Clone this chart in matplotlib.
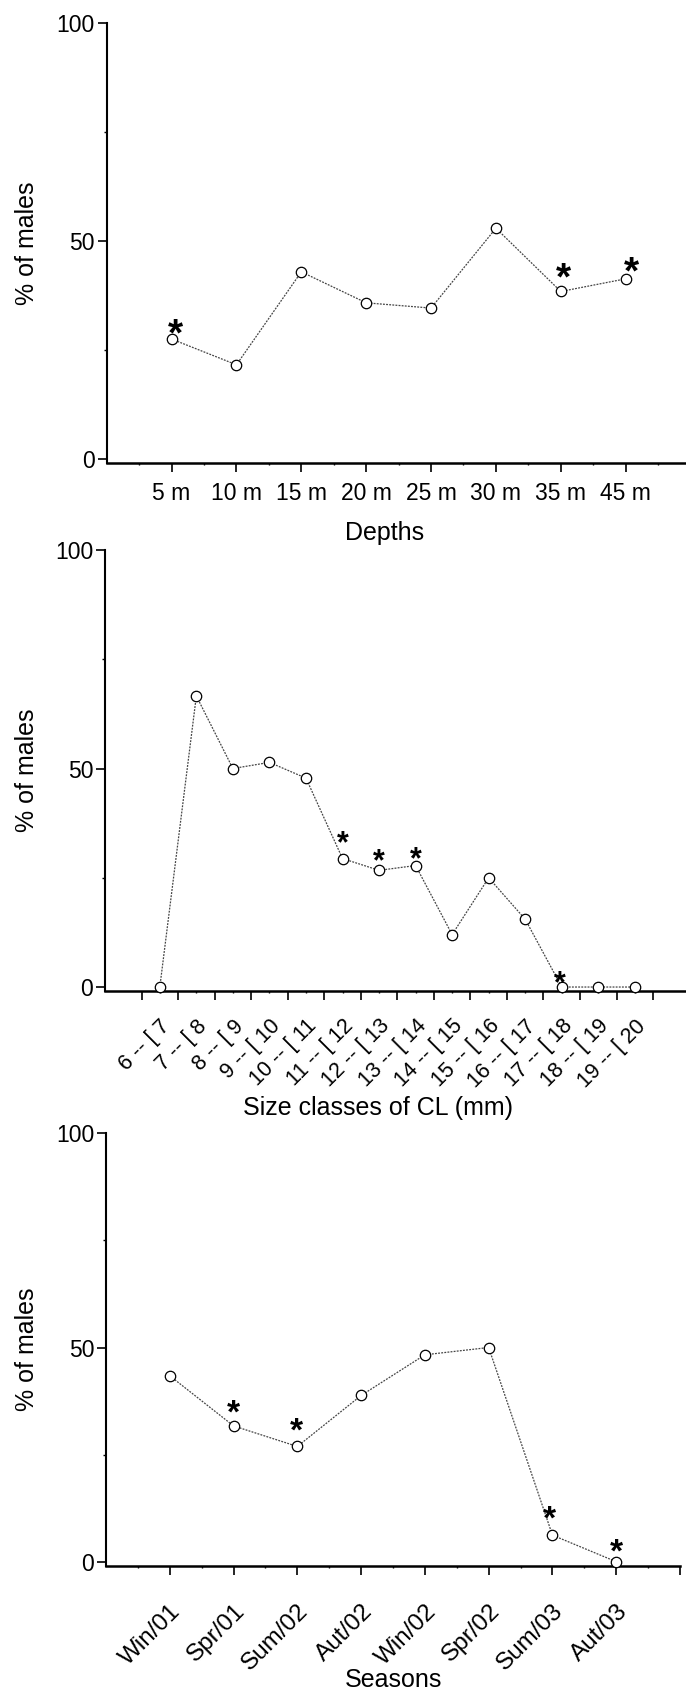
import matplotlib.pyplot as plt
from matplotlib.ticker import FixedLocator

plt.rcParams['font.family'] = ['Liberation Sans', 'DejaVu Sans']

# ---- data ----
depth_labels = ['5 m', '10 m', '15 m', '20 m', '25 m', '30 m', '35 m', '45 m']
depth_males = [27.5, 21.6, 42.9, 35.8, 34.6, 52.9, 38.4, 41.3]
depth_stars = [0, 6, 7]

size_labels = ['6 -- [ 7', '7 -- [ 8', '8 -- [ 9', '9 -- [ 10', '10 -- [ 11',
               '11 -- [ 12', '12 -- [ 13', '13 -- [ 14', '14 -- [ 15',
               '15 -- [ 16', '16 -- [ 17', '17 -- [ 18', '18 -- [ 19', '19 -- [ 20']
size_males = [0, 66.6, 50.0, 51.4, 47.8, 29.4, 26.7, 27.8, 12.0, 25.0, 15.5, 0, 0, 0]
size_stars = [5, 6, 7, 11]

season_labels = ['Win/01', 'Spr/01', 'Sum/02', 'Aut/02', 'Win/02', 'Spr/02',
                 'Sum/03', 'Aut/03']
season_males = [43.4, 31.7, 26.9, 38.8, 48.3, 50.0, 6.2, 0]
season_stars = [1, 2, 6, 7]

W, H = 686, 1694
fig = plt.figure(figsize=(W / 100, H / 100), dpi=100)


def px_axes(left, right, top, bottom):
    # pixel box -> figure fraction
    return [left / W, 1 - bottom / H, (right - left) / W, (bottom - top) / H]


def base_axes(rect):
    ax = fig.add_axes(rect)
    ax.spines['top'].set_visible(False)
    ax.spines['right'].set_visible(False)
    ax.spines['left'].set_linewidth(1.5)
    ax.spines['bottom'].set_linewidth(1.8)
    ax.set_ylim(-1, 100)
    ax.yaxis.set_major_locator(FixedLocator([0, 50, 100]))
    ax.yaxis.set_minor_locator(FixedLocator([25, 75]))
    ax.tick_params(axis='y', which='major', length=6.5, width=1.2,
                   labelsize=16.5, pad=2)
    ax.tick_params(axis='y', which='minor', length=2.5, width=1.0)
    ax.tick_params(axis='x', which='major', length=6.5, width=1.2, direction='out')
    ax.set_ylabel('% of males', fontsize=18)
    ax.yaxis.label.set_va('center')
    ax.patch.set_alpha(0)
    return ax


def draw_series(ax, x, y, stars, offsets, star_size):
    ax.plot(x, y, color='#444444', lw=0.9, ls=(0, (1.5, 1.0)), zorder=2)
    ax.plot(x, y, ls='none', marker='o', ms=7.5, mfc='white', mec='black',
            mew=0.9, zorder=3, clip_on=False)
    for i, (dx, dy) in zip(stars, offsets):
        ax.annotate('*', (x[i], y[i]), xytext=(dx * 0.72, dy * 0.72),
                    textcoords='offset points', ha='center', va='center',
                    fontsize=star_size, fontweight='bold')


# ---- panel 1: depths ----
ax1 = base_axes(px_axes(106.7, 686, 22.7, 463.4))
x1 = list(range(1, len(depth_males) + 1))
ax1.set_xlim(0, 8.93)
ax1.set_xticks(x1, depth_labels)
ax1.xaxis.set_minor_locator(FixedLocator([v - 0.5 for v in x1] + [8.5]))
ax1.tick_params(axis='x', which='major', labelsize=16.5, pad=7)
ax1.tick_params(axis='x', which='minor', length=1.5, width=1.0)
draw_series(ax1, x1, depth_males, depth_stars, [(4, 4), (3, 12), (6, 5)], 28)
ax1.set_xlabel('Depths', fontsize=18)
ax1.xaxis.label.set_va('center')
ax1.xaxis.set_label_coords(0.48, -0.157)
ax1.yaxis.set_label_coords(-0.1376, 0.5)

# ---- panel 2: size classes ----
ax2 = base_axes(px_axes(105, 686, 550, 991.4))
x2 = list(range(1, len(size_males) + 1))
ax2.set_xlim(-0.5, 15.4)
ax2.xaxis.set_major_locator(FixedLocator([v - 0.5 for v in x2] + [14.5]))
ax2.xaxis.set_major_formatter(plt.NullFormatter())
ax2.set_xticks(x2, size_labels, minor=True)
ax2.tick_params(axis='x', which='minor', length=1.5, width=1.0, labelsize=15.5,
                pad=16)
for lab in ax2.get_xticklabels(minor=True):
    lab.set_rotation(45)
    lab.set_rotation_mode('anchor')
    lab.set_ha('right')
    lab.set_va('top')
draw_series(ax2, x2, size_males, size_stars,
            [(0, 14), (0, 8), (0, 5), (-2, 3)], 22)
ax2.set_xlabel('Size classes of CL (mm)', fontsize=18)
ax2.xaxis.label.set_va('center')
ax2.xaxis.set_label_coords(0.47, -0.265)
ax2.yaxis.set_label_coords(-0.134, 0.5)

# ---- panel 3: seasons ----
ax3 = base_axes(px_axes(106, 680, 1133.3, 1566))
x3 = list(range(1, len(season_males) + 1))
ax3.set_xlim(0, 9)
ax3.set_xticks(x3 + [9], season_labels + [''])
ax3.xaxis.set_minor_locator(FixedLocator([v - 0.5 for v in x3] + [8.5]))
ax3.tick_params(axis='x', which='major', labelsize=17.5, pad=18)
ax3.tick_params(axis='x', which='minor', length=1.5, width=1.0)
for lab in ax3.get_xticklabels():
    lab.set_rotation(45)
    lab.set_rotation_mode('anchor')
    lab.set_ha('right')
    lab.set_va('top')
draw_series(ax3, x3, season_males, season_stars,
            [(0, 12), (-1, 14), (-3, 15), (0, 9)], 24)
ax3.set_xlabel('Seasons', fontsize=18)
ax3.xaxis.label.set_va('center')
ax3.xaxis.set_label_coords(0.5, -0.263)
ax3.yaxis.set_label_coords(-0.138, 0.5)

fig.savefig('out.png', dpi=100)
